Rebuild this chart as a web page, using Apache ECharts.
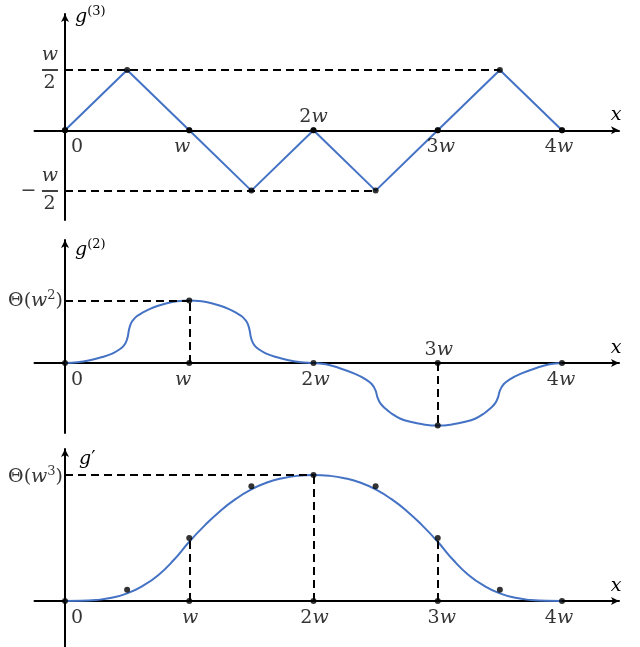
<!DOCTYPE html>
<html>
<head>
<meta charset="utf-8">
<script src="https://cdn.jsdelivr.net/npm/echarts@6/dist/echarts.min.js"></script>
<style>
  html, body { margin: 0; background: #fff; }
  #chart { width: 640px; height: 647px; }
</style>
</head>
<body>
<div id="chart"></div>
<script>
// x values are in units of w
const tickValues = [0, 1, 2, 3, 4]
const tickTexts = ['0', 'w', '2w', '3w', '4w']

// g(3): triangle wave
const g3X = [0, 0.5, 1, 1.5, 2, 2.5, 3, 3.5, 4]
const g3Y = [0, 0.5, 0, -0.5, 0, -0.5, 0, 0.5, 0]
const g3Guides = [[[0, 0.5], [3.5, 0.5]], [[0, -0.5], [2.5, -0.5]]]

// g(2)
const g2X = [0, 0.1, 0.2, 0.3, 0.38, 0.44, 0.47, 0.49, 0.505, 0.515, 0.53, 0.55, 0.58, 0.62, 0.68, 0.75, 0.82, 0.9, 1,
    1.1, 1.18, 1.25, 1.32, 1.38, 1.42, 1.45, 1.47, 1.485, 1.495, 1.51, 1.53, 1.56, 1.62, 1.7, 1.8, 1.9, 2,
    2.1, 2.2, 2.33, 2.42, 2.47, 2.5, 2.515, 2.54, 2.58, 2.63, 2.7, 2.78, 2.88, 3,
    3.12, 3.22, 3.3, 3.37, 3.42, 3.46, 3.485, 3.5, 3.53, 3.58, 3.67, 3.8, 3.9, 4]
const g2Y = [0, 0.012, 0.045, 0.095, 0.15, 0.22, 0.27, 0.33, 0.42, 0.53, 0.63, 0.69, 0.75, 0.8, 0.86, 0.915, 0.955, 0.985, 1,
    0.985, 0.955, 0.915, 0.86, 0.8, 0.75, 0.69, 0.63, 0.53, 0.42, 0.33, 0.27, 0.22, 0.15, 0.095, 0.045, 0.012, 0,
    -0.02, -0.075, -0.17, -0.26, -0.34, -0.44, -0.55, -0.65, -0.73, -0.81, -0.89, -0.94, -0.98, -1,
    -0.98, -0.94, -0.89, -0.81, -0.73, -0.65, -0.55, -0.44, -0.34, -0.26, -0.17, -0.075, -0.02, 0]
const g2DotX = [1, 3]
const g2DotY = [1, -1]
const g2Guides = [[[0, 1], [1, 1]], [[1, 0], [1, 1]], [[3, 0], [3, -1]]]

// g'
const g1X = [0, 0.125, 0.25, 0.375, 0.5, 0.625, 0.75, 0.875, 1, 1.125, 1.25, 1.375, 1.5, 1.625, 1.75, 1.875, 2,
    2.125, 2.25, 2.375, 2.5, 2.625, 2.75, 2.875, 3, 3.125, 3.25, 3.375, 3.5, 3.625, 3.75, 3.875, 4]
const g1Y = [0, 0.001, 0.008, 0.025, 0.06, 0.12, 0.205, 0.325, 0.47, 0.6, 0.715, 0.81, 0.885, 0.94, 0.975, 0.994, 1,
    0.994, 0.975, 0.94, 0.885, 0.81, 0.715, 0.6, 0.47, 0.325, 0.205, 0.12, 0.06, 0.025, 0.008, 0.001, 0]
const g1DotX = [0.5, 1, 1.5, 2, 2.5, 3, 3.5]
const g1DotY = [0.09, 0.5, 0.91, 1, 0.91, 0.5, 0.09]
const g1Guides = [[[0, 1], [2, 1]], [[1, 0], [1, 0.5]], [[2, 0], [2, 1]], [[3, 0], [3, 0.5]]]

// ---- layout ----
const FONT = 'DejaVu Serif'
const BLUE = '#4472C4'
const X0 = 65, XW = 124.25, XLEFT = 34.5, XRIGHT = 619

const rich = {
    n: { fontFamily: FONT, fontSize: 19, lineHeight: 24, color: '#000' },
    i: { fontFamily: FONT, fontSize: 19, lineHeight: 24, fontStyle: 'italic', color: '#000' },
    s: { fontFamily: FONT, fontSize: 13, lineHeight: 15, color: '#000', verticalAlign: 'top' },
}

function mathText(t) {
    return t.replace(/\d+|[a-z]/g, m => (/\d/.test(m) ? '{n|' + m + '}' : '{i|' + m + '}'))
}

function zip(xs, ys) {
    return xs.map((x, k) => [x, ys[k]])
}

function textItem(x, y, text, dx, dy, align) {
    return {
        value: [x, y],
        label: {
            show: true,
            position: 'inside',
            formatter: () => text,
            rich: rich,
            offset: [dx, dy],
            align: align || 'center',
            verticalAlign: 'middle',
        },
    }
}

const panels = [
    { top: 14, bottom: 220, zero: 130.3, unit: 120.6, nameGap: -3, namePad: 10, name: '{i|g}{s|(3)}',
      above: 2, shifts: [12, -7, 0, 3, -3], curve: zip(g3X, g3Y), smooth: false,
      dots: zip(g3X, g3Y), guides: g3Guides },
    { top: 240, bottom: 433, zero: 363, unit: 62.6, nameGap: -10, namePad: 10, name: '{i|g}{s|(2)}',
      above: 3, shifts: [12, -6, 2, 1, -1], curve: zip(g2X, g2Y), smooth: 0.4,
      dots: zip(g2DotX, g2DotY), guides: g2Guides },
    { top: 449, bottom: 647, zero: 601, unit: 126, nameGap: -10, namePad: 14, name: '{i|g}{n|′}',
      above: -1, shifts: [12, 1, 1, 4, -3], curve: zip(g1X, g1Y), smooth: 0.5,
      dots: zip(g1DotX, g1DotY), guides: g1Guides },
]

// fraction bars of the w/2 labels, in pixels left of the y axis
const barL = (42 - X0) / XW, barR = (58 - X0) / XW

const grid = [], xAxis = [], yAxis = [], series = []

panels.forEach((p, idx) => {
    grid.push({ left: XLEFT, width: XRIGHT - XLEFT, top: p.top, height: p.bottom - p.top })
    xAxis.push({
        gridIndex: idx,
        type: 'value',
        min: (XLEFT - X0) / XW,
        max: (XRIGHT - X0) / XW,
        axisLine: { symbol: ['none', 'arrow'], symbolSize: [6, 8], lineStyle: { color: '#000', width: 2 } },
        axisTick: { show: false },
        axisLabel: { show: false },
        splitLine: { show: false },
        name: '{i|x}',
        nameLocation: 'end',
        nameGap: -3,
        nameTextStyle: { align: 'center', verticalAlign: 'bottom', padding: [0, 0, 3, 0], rich: rich },
    })
    yAxis.push({
        gridIndex: idx,
        type: 'value',
        min: -(p.bottom - p.zero) / p.unit,
        max: (p.zero - p.top) / p.unit,
        axisLine: { onZero: true, symbol: ['none', 'arrow'], symbolSize: [6, 8], lineStyle: { color: '#000', width: 2 } },
        axisTick: { show: false },
        axisLabel: { show: false },
        splitLine: { show: false },
        name: p.name,
        nameLocation: 'end',
        nameGap: p.nameGap,
        nameTextStyle: { align: 'left', verticalAlign: 'middle', padding: [0, 0, 0, p.namePad], rich: rich },
    })

    const markData = p.guides.map(g => [{ coord: g[0] }, { coord: g[1] }])
    if (idx === 0) {
        // bars of the w/2 fractions
        ;[0.5, -0.5].forEach(v => {
            markData.push([
                { coord: [barL, v], lineStyle: { type: 'solid', width: 1.5 } },
                { coord: [barR, v] },
            ])
        })
    }

    series.push({
        type: 'line',
        xAxisIndex: idx,
        yAxisIndex: idx,
        data: p.curve,
        symbol: 'none',
        smooth: p.smooth,
        lineStyle: { color: BLUE, width: 2 },
        z: 3,
        animation: false,
        markLine: {
            silent: true,
            symbol: ['none', 'none'],
            label: { show: false },
            lineStyle: { color: '#000', width: 2, type: [8, 5] },
            data: markData,
            animation: false,
        },
    })

    series.push({
        type: 'scatter',
        xAxisIndex: idx,
        yAxisIndex: idx,
        data: tickValues.map(v => [v, 0]).concat(p.dots),
        symbolSize: 6,
        itemStyle: { color: '#000' },
        z: 5,
        animation: false,
    })

    const texts = tickValues.map((v, k) => {
        const dy = k === p.above ? -13 : 17
        return textItem(v, 0, mathText(tickTexts[k]), p.shifts[k], dy)
    })
    if (idx === 0) {
        texts.push(textItem(0, 0.5, '{i|w}', -15, -15))
        texts.push(textItem(0, 0.5, '{n|2}', -15.5, 13.5))
        texts.push(textItem(0, -0.5, '{i|w}', -15, -15))
        texts.push(textItem(0, -0.5, '{n|2}', -15.5, 13.5))
        texts.push(textItem(0, -0.5, '{n|−}', -36.5, 0))
    } else if (idx === 1) {
        texts.push(textItem(0, 1, '{n|Θ(}{i|w}{s|2}{n|)}', -2, 1, 'right'))
    } else {
        texts.push(textItem(0, 1, '{n|Θ(}{i|w}{s|3}{n|)}', -2, 2, 'right'))
    }
    series.push({
        type: 'scatter',
        xAxisIndex: idx,
        yAxisIndex: idx,
        data: texts,
        symbolSize: 0,
        silent: true,
        z: 6,
        animation: false,
    })
})

const chart = echarts.init(document.getElementById('chart'))
chart.setOption({
    animation: false,
    backgroundColor: '#fff',
    textStyle: { fontFamily: FONT },
    grid: grid,
    xAxis: xAxis,
    yAxis: yAxis,
    series: series,
})
</script>
</body>
</html>
